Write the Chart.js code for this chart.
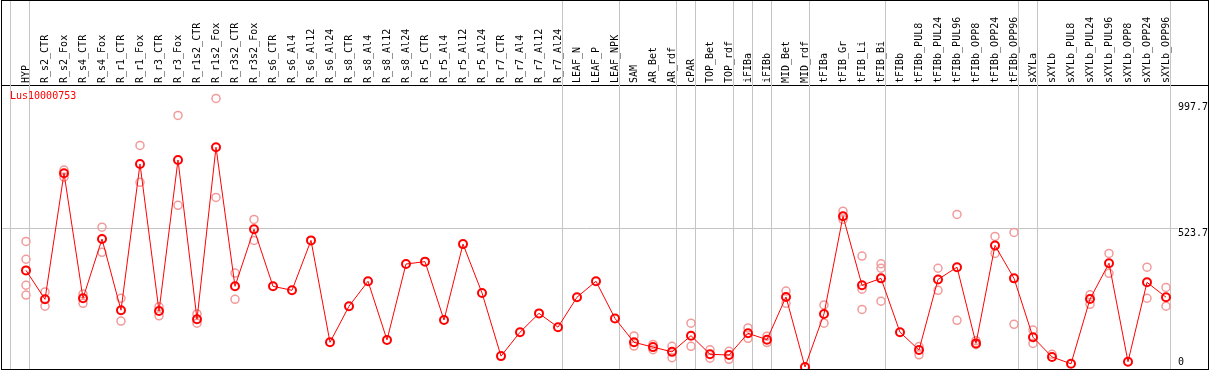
<!DOCTYPE html>
<html>
<head>
<meta charset="utf-8">
<script src="https://cdn.jsdelivr.net/npm/chart.js@4.4.0/dist/chart.umd.min.js"></script>
<style>
  html, body { margin: 0; padding: 0; background: #fff; }
  #frame { position: absolute; left: 1px; top: 0; width: 1206px; height: 368px; border: 1px solid #000; }
  #header { position: absolute; left: 0; top: 0; width: 1206px; height: 84px; border-bottom: 1px solid #000; }
  #title { position: absolute; left: 8px; top: 89px; font: 10px/12px "DejaVu Sans Mono", monospace; color: #f00; z-index: 2; }
  canvas { position: absolute; left: 0; top: 0; z-index: 1; }
</style>
</head>
<body>
<div id="frame">
  <div id="header"></div>
  <canvas id="geneChart" width="1206" height="368"></canvas>
  <div id="title"></div>
</div>
<script>
// samples, left to right
const categories = [
  'HYP', 'R_s2_CTR', 'R_s2_Fox', 'R_s4_CTR', 'R_s4_Fox', 'R_r1_CTR', 'R_r1_Fox', 'R_r3_CTR', 'R_r3_Fox',
  'R_r1s2_CTR', 'R_r1s2_Fox', 'R_r3s2_CTR', 'R_r3s2_Fox', 'R_s6_CTR', 'R_s6_Al4', 'R_s6_Al12', 'R_s6_Al24',
  'R_s8_CTR', 'R_s8_Al4', 'R_s8_Al12', 'R_s8_Al24', 'R_r5_CTR', 'R_r5_Al4', 'R_r5_Al12', 'R_r5_Al24',
  'R_r7_CTR', 'R_r7_Al4', 'R_r7_Al12', 'R_r7_Al24', 'LEAF_N', 'LEAF_P', 'LEAF_NPK', 'SAM', 'AR_Bet', 'AR_rdf',
  'cPAR', 'TOP_Bet', 'TOP_rdf', 'iFIBa', 'iFIBb', 'MID_Bet', 'MID_rdf', 'tFIBa', 'tFIB_Gr', 'tFIB_Li', 'tFIB_Bi',
  'tFIBb', 'tFIBb_PUL8', 'tFIBb_PUL24', 'tFIBb_PUL96', 'tFIBb_OPP8', 'tFIBb_OPP24', 'tFIBb_OPP96',
  'sXYLa', 'sXYLb', 'sXYLb_PUL8', 'sXYLb_PUL24', 'sXYLb_PUL96', 'sXYLb_OPP8', 'sXYLb_OPP24', 'sXYLb_OPP96'
];

// mean expression
const meanValues = [
  364, 255, 730, 259, 482, 214, 765, 211, 780, 180, 828, 304, 519, 304, 289, 477, 93,
  229, 323, 102, 388, 397, 177, 463, 279, 41, 131, 202, 150, 263, 323, 183, 93, 75, 57,
  118, 48, 45, 127, 103, 264, 0, 200, 568, 308, 334, 131, 64, 330, 376, 89, 458, 334,
  112, 38, 12, 256, 391, 20, 319, 263
];

// replicates (null = none visible)
const repA = [
  473, 283, 742, 275, 527, 259, 835, 227, 948, 200, 1012, 354, 556, null, null, null, null,
  null, null, null, null, null, null, null, null, null, null, null, null, null, null, null, 117, 85, 78,
  165, 65, 59, 147, 116, 286, null, 234, 587, 418, 389, null, 77, 372, 575, 99, 492, 507,
  139, 48, null, 272, 428, null, 376, 300
];
const repB = [
  406, 229, 715, 240, 432, 173, 696, 193, 609, 165, 639, 255, 477, null, null, null, null,
  null, null, null, null, null, null, null, null, null, null, null, null, null, null, null, 79, 65, 35,
  78, 33, 29, 108, 92, 240, null, 165, 556, 293, 372, null, 46, 289, 176, 84, 428, 161,
  89, null, null, 236, 353, null, 259, 229
];
const repC = [
  308, null, null, null, null, null, null, null, null, null, null, null, null, null, null, null, null,
  null, null, null, null, null, null, null, null, null, null, null, null, null, null, null, null, null, null,
  null, null, null, null, null, null, null, null, null, 217, 248, null, null, null, null, null, null, null,
  null, null, null, null, null, null, null, null
];
const repD = [
  271, null, null, null, null, null, null, null, null, null, null, null, null, null, null, null, null,
  null, null, null, null, null, null, null, null, null, null, null, null, null, null, null, null, null, null,
  null, null, null, null, null, null, null, null, null, null, null, null, null, null, null, null, null, null,
  null, null, null, null, null, null, null, null
];

// group separators (in category units)
const separators = [-0.84, 0.21, 28.24, 31.23, 34.24, 35.24, 37.24, 38.24, 39.24, 41.24, 45.24, 52.23, 53.23, 60.24];
const yTicks = [0, 523.7, 997.7];
const geneName = 'Lus10000753';

document.getElementById('title').textContent = geneName;

const labelFont = { family: 'DejaVu Sans Mono', size: 10, lineHeight: 0 };
const yFont = { family: 'DejaVu Sans Mono', size: 10, lineHeight: 1 };

const toPoints = arr => arr.map((v, i) => (v === null ? null : { x: i, y: v })).filter(p => p !== null);

const repDatasets = [repA, repB, repC, repD].map(arr => ({
  label: 'rep',
  data: toPoints(arr),
  showLine: false,
  pointRadius: 4,
  pointHoverRadius: 4,
  pointBorderWidth: 1.5,
  pointBorderColor: '#f29a9a',
  pointBackgroundColor: 'rgba(0,0,0,0)'
}));

new Chart(document.getElementById('geneChart').getContext('2d'), {
  type: 'line',
  data: {
    datasets: [
      {
        label: geneName,
        data: toPoints(meanValues),
        borderColor: '#ff0000',
        borderWidth: 1,
        pointRadius: 4,
        pointHoverRadius: 4,
        pointBorderWidth: 2,
        pointBorderColor: '#ff0000',
        pointBackgroundColor: 'rgba(0,0,0,0)',
        tension: 0
      },
      ...repDatasets
    ]
  },
  options: {
    responsive: false,
    animation: false,
    layout: { padding: 0, autoPadding: false },
    plugins: {
      legend: { display: false },
      tooltip: { enabled: false },
      title: { display: false }
    },
    scales: {
      x: {
        type: 'linear',
        position: 'top',
        min: -24 / 19,
        max: 60 + 5 / 19,
        afterBuildTicks: scale => {
          const t = categories.map((c, i) => ({ value: i }));
          separators.forEach(s => t.push({ value: s }));
          scale.ticks = t;
        },
        afterFit: scale => {
          scale.height = 84;
          scale.paddingLeft = 0;
          scale.paddingRight = 0;
        },
        border: { display: false },
        grid: {
          drawTicks: true,
          tickLength: 84,
          color: ctx => (ctx.tick && separators.includes(ctx.tick.value) ? '#c4c4c4' : 'rgba(0,0,0,0)'),
          lineWidth: 1
        },
        ticks: {
          autoSkip: false,
          minRotation: 90,
          maxRotation: 90,
          padding: -82,
          color: '#000',
          font: labelFont,
          callback: value => (Number.isInteger(value) ? categories[value] : '')
        }
      },
      y: {
        position: 'right',
        min: -7.54,
        max: 1062.5,
        afterBuildTicks: scale => { scale.ticks = yTicks.map(v => ({ value: v })); },
        afterFit: scale => {
          scale.width = 37;
          scale.paddingTop = 0;
          scale.paddingBottom = 0;
        },
        border: { display: false },
        grid: {
          drawTicks: true,
          tickLength: 7,
          color: ctx => (ctx.tick && ctx.tick.value === 523.7 ? '#c4c4c4' : 'rgba(0,0,0,0)')
        },
        ticks: {
          padding: 0,
          crossAlign: 'near',
          color: '#000',
          font: yFont,
          callback: value => (value === 0 ? ['0', ''] : ['', String(value)])
        }
      }
    }
  }
});
</script>
</body>
</html>
